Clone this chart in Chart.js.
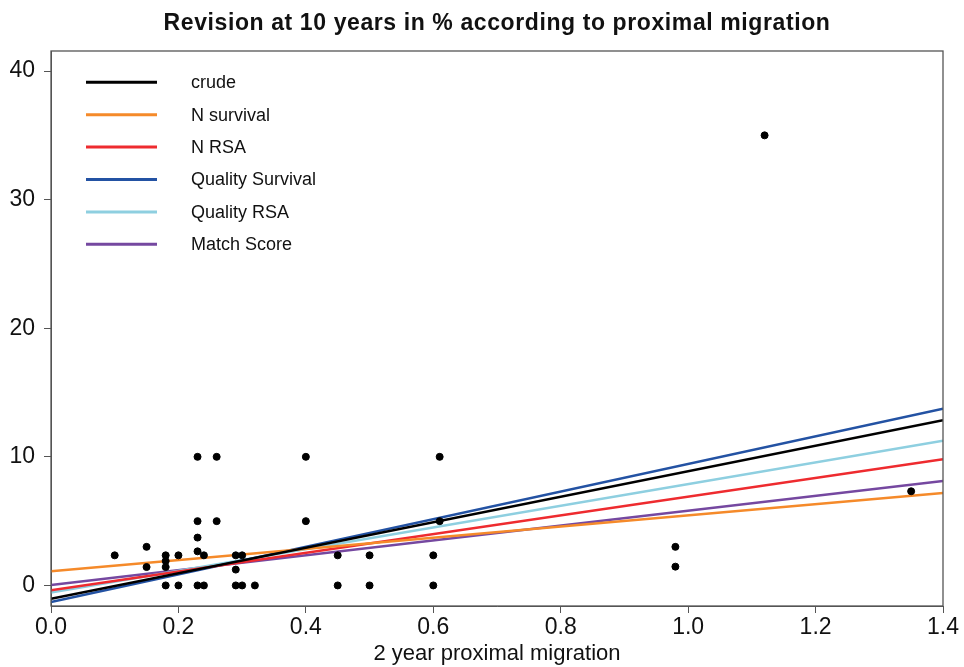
<!DOCTYPE html>
<html>
<head>
<meta charset="utf-8">
<script src="https://cdn.jsdelivr.net/npm/chart.js@4"></script>
<style>
  body { margin: 0; background: #fff; }
  #wrap { width: 964px; height: 667px; }
</style>
</head>
<body>
<div id="wrap"><canvas id="chart"></canvas></div>
<script>
// observed cases: 2 year proximal migration vs revision at 10 years (%)
const migration = [0.10, 0.15, 0.15, 0.18, 0.18, 0.18, 0.18, 0.20, 0.20,
  0.23, 0.23, 0.23, 0.23, 0.23, 0.24, 0.24, 0.26, 0.26, 0.29, 0.29, 0.29,
  0.30, 0.30, 0.32, 0.40, 0.40, 0.45, 0.45, 0.50, 0.50, 0.60, 0.60, 0.61, 0.61,
  0.98, 0.98, 1.12, 1.35];
const revision = [2.34, 3.0, 1.43, 2.34, 1.9, 1.43, 0, 2.34, 0,
  10, 5, 3.72, 2.65, 0, 2.34, 0, 10, 5, 2.34, 1.23, 0,
  2.34, 0, 0, 10, 5, 2.34, 0, 2.34, 0, 2.34, 0, 10, 5,
  3.0, 1.46, 35.0, 7.32];

// regression lines, value at x = 0 and x = 1.4
const lineX = [0, 1.4];
const lineNames = ['crude', 'N survival', 'N RSA', 'Quality Survival', 'Quality RSA', 'Match Score'];
const lineColors = ['#000000', '#f58a2a', '#ee2b2f', '#2352a3', '#8ecfe0', '#7548a0'];
const lineStart = [-1.03, 1.10, -0.38, -1.29, -0.56, 0.03];
const lineEnd = [12.84, 7.19, 9.81, 13.75, 11.26, 8.12];

const xTicks = [0, 0.2, 0.4, 0.6, 0.8, 1.0, 1.2, 1.4];
const yTicks = [0, 10, 20, 30, 40];

const datasets = [{
  label: 'cases',
  data: migration.map((m, i) => ({x: m, y: revision[i]})),
  backgroundColor: '#000',
  borderColor: '#000',
  pointRadius: 3.5,
  showLine: false
}];
lineNames.forEach((n, i) => {
  datasets.push({
    label: n,
    data: [{x: lineX[0], y: lineStart[i]}, {x: lineX[1], y: lineEnd[i]}],
    borderColor: lineColors[i],
    backgroundColor: lineColors[i],
    borderWidth: 2.5,
    pointRadius: 0,
    showLine: true
  });
});

const frame = {
  id: 'frame',
  afterDraw(chart) {
    const {ctx, chartArea: a} = chart;
    ctx.save();
    ctx.strokeStyle = '#555';
    ctx.lineWidth = 1.3;
    ctx.strokeRect(a.left, a.top, a.right - a.left, a.bottom - a.top);
    // title
    ctx.fillStyle = '#111';
    ctx.font = 'bold 23px "Liberation Sans", Arial, sans-serif';
    ctx.letterSpacing = '0.6px';
    ctx.textAlign = 'center';
    ctx.textBaseline = 'alphabetic';
    ctx.fillText('Revision at 10 years in % according to proximal migration', 497, 30);
    ctx.letterSpacing = '0px';
    // legend
    ctx.font = '18px "Liberation Sans", Arial, sans-serif';
    ctx.textAlign = 'left';
    ctx.textBaseline = 'middle';
    chart.data.datasets.slice(1).forEach((d, i) => {
      const y = 82.3 + i * 32.4;
      ctx.strokeStyle = d.borderColor;
      ctx.lineWidth = 3;
      ctx.beginPath();
      ctx.moveTo(86, y);
      ctx.lineTo(157, y);
      ctx.stroke();
      ctx.fillStyle = '#111';
      ctx.fillText(d.label, 191, y + 1);
    });
    ctx.restore();
  }
};

new Chart(document.getElementById('chart'), {
  type: 'scatter',
  data: {datasets},
  options: {
    responsive: true,
    maintainAspectRatio: false,
    animation: false,
    layout: {padding: {top: 51, right: 21, left: 0, bottom: 0}},
    plugins: {legend: {display: false}, tooltip: {enabled: false}},
    scales: {
      x: {
        type: 'linear',
        min: 0, max: 1.4,
        afterBuildTicks: s => { s.ticks = xTicks.map(v => ({value: v})); },
        afterFit: s => { s.height = 61; },
        grid: {drawOnChartArea: false, tickLength: 7, color: '#555'},
        border: {color: '#555'},
        ticks: {
          color: '#111',
          padding: 1,
          font: {family: '"Liberation Sans", Arial, sans-serif', size: 23},
          callback: v => v.toFixed(1)
        },
        title: {
          display: true,
          text: '2 year proximal migration',
          color: '#111',
          padding: {top: 0, bottom: 0},
          font: {family: '"Liberation Sans", Arial, sans-serif', size: 22}
        }
      },
      y: {
        min: -1.6, max: 41.56,
        afterBuildTicks: s => { s.ticks = yTicks.map(v => ({value: v})); },
        afterFit: s => { s.width = 51; },
        grid: {drawOnChartArea: false, tickLength: 7, color: '#555'},
        border: {color: '#555'},
        ticks: {
          color: '#111',
          padding: 9,
          font: {family: '"Liberation Sans", Arial, sans-serif', size: 23}
        }
      }
    }
  },
  plugins: [frame]
});
</script>
</body>
</html>
